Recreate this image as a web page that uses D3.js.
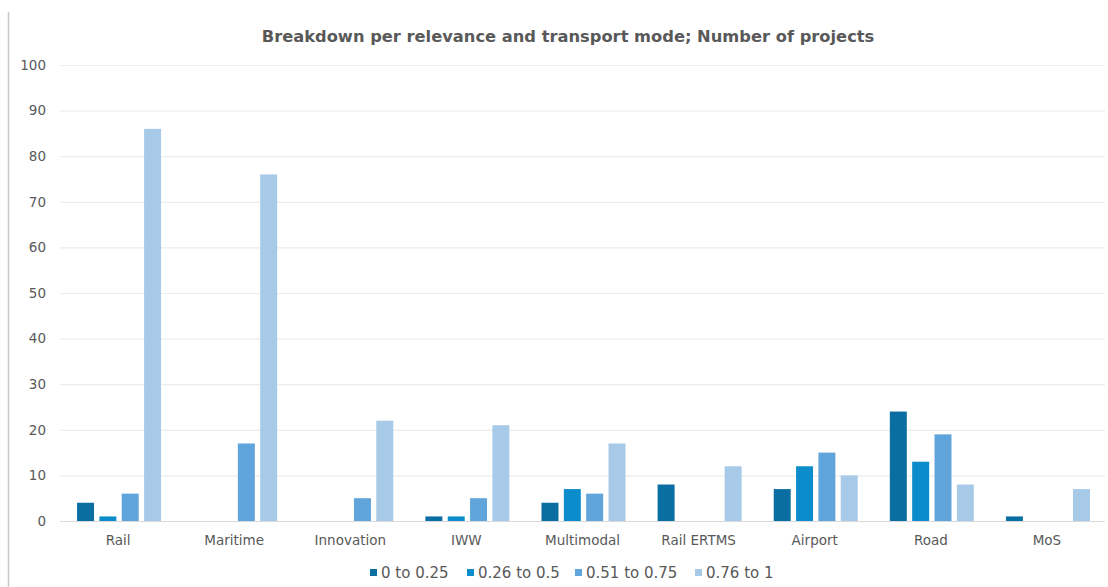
<!DOCTYPE html>
<html>
<head>
<meta charset="utf-8">
<script src="https://cdn.jsdelivr.net/npm/d3@7"></script>
<style>
  body { margin: 0; background: #fff; }
  svg { display: block; font-family: "DejaVu Sans", Verdana, sans-serif; }
</style>
</head>
<body>
<svg id="chart" width="1108" height="587"></svg>
<script>
// transport modes on the x axis
const modes = ["Rail", "Maritime", "Innovation", "IWW", "Multimodal", "Rail ERTMS", "Airport", "Road", "MoS"];
const ranges = ["0 to 0.25", "0.26 to 0.5", "0.51 to 0.75", "0.76 to 1"];
// number of projects per relevance range, in mode order
const low = [4, 0, 0, 1, 4, 8, 7, 24, 1];
const midLow = [1, 0, 0, 1, 7, 0, 12, 13, 0];
const midHigh = [6, 17, 5, 5, 6, 0, 15, 19, 0];
const high = [86, 76, 22, 21, 17, 12, 10, 8, 7];
const yTicks = [0, 10, 20, 30, 40, 50, 60, 70, 80, 90, 100];
const colors = ["#0b6ea3", "#0b8dcb", "#5fa4db", "#a8cae9"];

const series = [low, midLow, midHigh, high];
let rows = modes.map((m, i) => ({mode: m, vals: series.map(s => s[i])}));

const svg = d3.select("#chart");
const plotLeft = 60, plotRight = 1105, plotTop = 65, plotBottom = 521;
const fontSize = "13.5px";

// left border like the original frame
svg.append("line")
  .attr("x1", 8.5).attr("x2", 8.5).attr("y1", 12).attr("y2", 587)
  .attr("stroke", "#c8c8c8").attr("stroke-width", 1.5);

let x = d3.scaleBand().domain(modes).range([plotLeft, plotRight]);
let xInner = d3.scaleBand().domain(d3.range(4)).range([0, 84]).paddingInner(0.24);
let y = d3.scaleLinear().domain([0, 100]).range([plotBottom, plotTop]);

// grid
svg.append("g")
  .selectAll("line")
  .data(yTicks.filter(t => t > 0))
  .join("line")
  .attr("x1", plotLeft).attr("x2", plotRight)
  .attr("y1", d => y(d) + 0.5).attr("y2", d => y(d) + 0.5)
  .attr("stroke", "#ececec").attr("stroke-width", 1.2);

// y labels
let yAxis = svg.append("g")
  .attr("transform", `translate(${plotLeft},0)`)
  .call(d3.axisLeft(y).tickValues(yTicks).tickSize(0).tickPadding(14));
yAxis.select(".domain").remove();
yAxis.selectAll("text").attr("fill", "#595959").style("font-size", fontSize)
  .style("font-family", "DejaVu Sans, Verdana, sans-serif");

// bars
let groups = svg.append("g").selectAll("g")
  .data(rows)
  .join("g")
  .attr("transform", d => `translate(${x(d.mode) + (x.bandwidth() - 84) / 2 + 1},0)`);

groups.selectAll("rect")
  .data(d => d.vals)
  .join("rect")
  .attr("x", (d, i) => xInner(i))
  .attr("width", xInner.bandwidth())
  .attr("y", d => y(d))
  .attr("height", d => y(0) - y(d))
  .attr("fill", (d, i) => colors[i]);

// baseline
svg.append("line")
  .attr("x1", plotLeft).attr("x2", plotRight)
  .attr("y1", plotBottom + 0.5).attr("y2", plotBottom + 0.5)
  .attr("stroke", "#d9d9d9").attr("stroke-width", 1);

// x labels
let xAxis = svg.append("g")
  .attr("transform", `translate(0,${plotBottom})`)
  .call(d3.axisBottom(x).tickSize(0).tickPadding(14));
xAxis.select(".domain").remove();
xAxis.selectAll("text").attr("fill", "#595959").style("font-size", fontSize)
  .style("font-family", "DejaVu Sans, Verdana, sans-serif");

// title
svg.append("text")
  .attr("x", 568).attr("y", 42)
  .attr("text-anchor", "middle")
  .attr("fill", "#595959")
  .style("font-size", "16.3px").style("font-weight", "bold")
  .text("Breakdown per relevance and transport mode; Number of projects");

// legend
const legendX = [370, 467, 575, 695];
let legend = svg.append("g").selectAll("g")
  .data(ranges)
  .join("g")
  .attr("transform", (d, i) => `translate(${legendX[i]},578)`);
legend.append("rect")
  .attr("x", 0).attr("y", -9).attr("width", 7).attr("height", 7)
  .attr("fill", (d, i) => colors[i]);
legend.append("text")
  .attr("x", 11).attr("y", 0)
  .attr("fill", "#595959").style("font-size", "15px")
  .text(d => d);
</script>
</body>
</html>
